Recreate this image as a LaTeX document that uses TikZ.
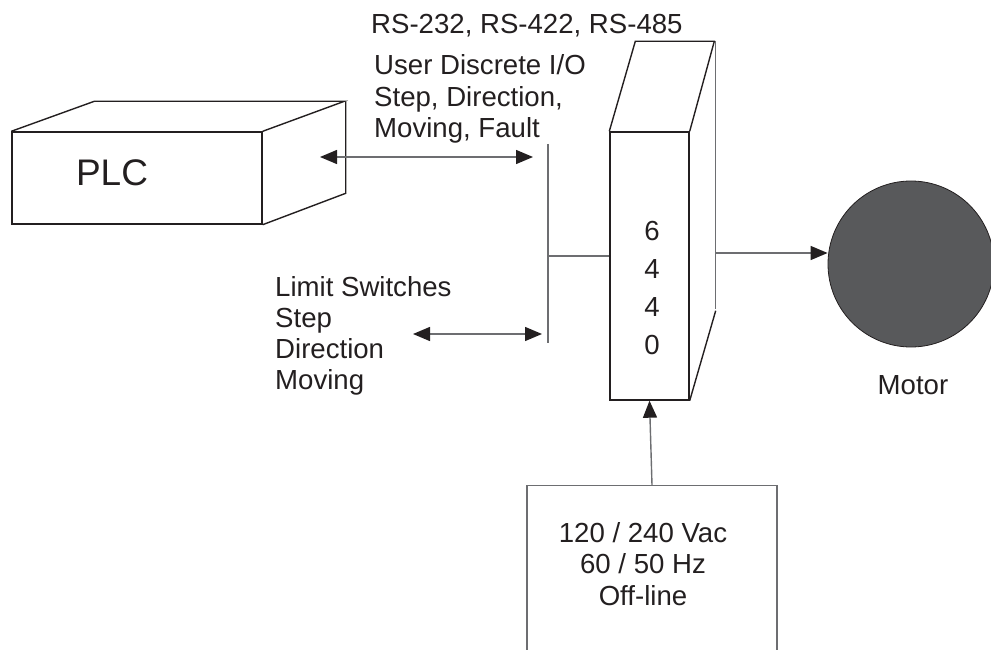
\documentclass[tikz,border=0pt]{standalone}
\usepackage{fontspec}
\setmainfont{Liberation Sans}
\usetikzlibrary{arrows.meta,positioning}

\definecolor{ink}{RGB}{35,31,32}
\definecolor{wire}{RGB}{109,110,113}
\definecolor{motorgray}{RGB}{88,89,91}

\tikzset{
  box/.style={draw=ink, line width=1.4pt, inner sep=0pt},
  edge/.style={draw=ink, line width=1.4pt},
  wireline/.style={draw=wire, line width=1.4pt},
  tip/.style={-{Triangle[length=17pt,width=14pt,color=ink]}},
  bothtips/.style={{Triangle[length=17pt,width=14pt,color=ink]}-{Triangle[length=17pt,width=14pt,color=ink]}},
  lbl/.style={inner sep=0pt, text=ink, font=\fontsize{27.6}{31.2}\selectfont},
}

\begin{document}
\begin{tikzpicture}[x=1pt,y=-1pt]
		\clip (0,0) rectangle (991,650);
		% PLC box
		\node[box, minimum width=250pt, minimum height=92pt] (plc) at (137,178) {};
		\node[lbl, font=\fontsize{37}{40}\selectfont] (plctext) at (112,173) {PLC};
		\draw[edge] (plc.north west) -- ++(83,-30) -- ++(250,0) -- (plc.north east);
		\draw[edge] (plc.north east) ++(83,-30) -- ++(0,92) -- (plc.south east);
		% 6440 drive
		\node[box, minimum width=79pt, minimum height=268pt] (drive) at (649.5,266) {};
		\node[lbl, align=center, font=\fontsize{27.6}{37.7}\selectfont] (drivetext) at (652,288) {6\\4\\4\\0};
		\draw[edge] (drive.north west) -- ++(26,-90) -- ++(79,0) -- (drive.north east);
		\draw[wireline] (drive.north east) ++(26,-90) -- ++(0,268);
		\draw[edge] (drive.south east) -- ++(26,-90);
		% motor
		\node[circle, draw=ink, fill=motorgray, line width=0.8pt, minimum size=166pt, inner sep=0pt] (motor) at (911,264) {};
		\node[lbl] (motortext) at (913,385) {Motor};
		% power supply
		\node[box, draw=wire, anchor=north, minimum width=250pt, minimum height=240pt] (supply) at (652,485) {};
		\node[lbl, align=center] (supplytext) at (643,564) {120 / 240 Vac\\60 / 50 Hz\\Off-line};
		% labels
		\node[lbl, anchor=west] (serial) at (371,26) {RS-232, RS-422, RS-485};
		\node[lbl, anchor=west, align=left] (userio) at (374,99) {User Discrete I/O\\Step, Direction,\\Moving, Fault};
		\node[lbl, anchor=west, align=left] (limits) at (275,336) {Limit Switches\\Step\\Direction\\Moving};
		% bus and connectors
		\coordinate (bustop) at (548,144);
		\coordinate (busbot) at (548,343);
		\coordinate (busmid) at (548,256);
		\coordinate (ioleft) at (320,157);
		\coordinate (ioright) at (533,157);
		\coordinate (limleft) at (413,334);
		\coordinate (limright) at (542,334);
		\coordinate (drvout) at (716,253);
		\draw[wireline] (bustop) -- (busbot);
		\draw[wireline] (busmid) -- (busmid -| drive.west);
		\draw[wireline, bothtips] (ioleft) -- (ioright);
		\draw[wireline, bothtips] (limleft) -- (limright);
		\draw[wireline, tip] (drvout) -- (drvout -| motor.west);
		\draw[wireline, tip] (supply.north) -- (drive.south);
	\end{tikzpicture}
\end{document}
